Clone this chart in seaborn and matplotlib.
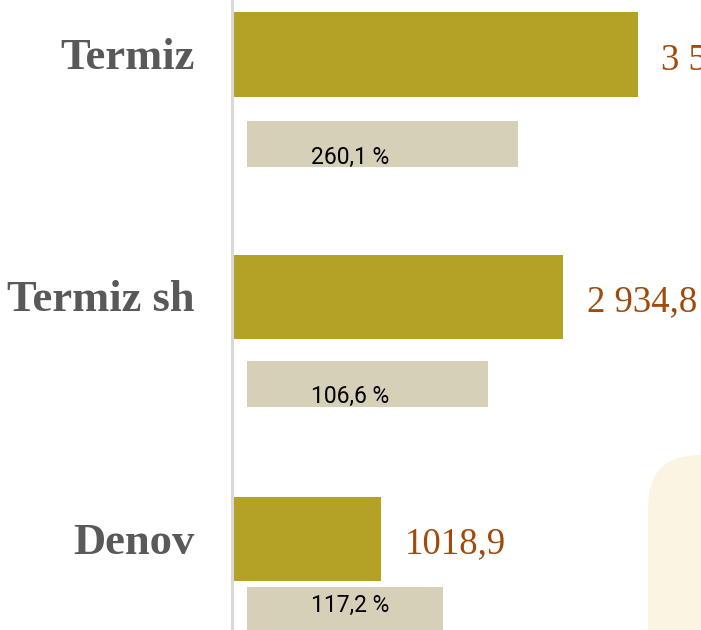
import numpy as np
import pandas as pd
import seaborn as sns
import matplotlib.pyplot as plt
from matplotlib.patches import FancyBboxPatch
from matplotlib.transforms import IdentityTransform

# data
cities = ["Termiz", "Termiz sh", "Denov"]
olive_len = [3600, 2935, 1315]          # drawn bar lengths
olive_lbl = ["3 560,4", "2 934,8", "1018,9"]
beige_len = [2410, 2143, 1743]
beige_lbl = ["260,1 %", "106,6 %", "117,2 %"]

olive = "#b4a227"
beige = "#d6d0b9"
brown = "#a04a0c"
gray = "#595959"

# layout (row offsets in row units)
beige_off = [0.368, 0.360, 0.293]
pct_base = [0.452, 0.438, 0.301]
base_off = 0.06
beige_left = 125
pct_x = 1040

sns.set_style("white")

fig = plt.figure(figsize=(7.01, 6.30), dpi=100)
ax = fig.add_axes([0, 0, 1, 1])

df = pd.DataFrame({"city": cities, "val": olive_len})
sns.barplot(data=df, x="val", y="city", orient="h", color=olive,
            saturation=1, width=0.347, linewidth=0, ax=ax)

ypos = np.arange(len(cities))
ax.barh(ypos + np.array(beige_off), beige_len, left=beige_left,
        height=0.19, color=beige, linewidth=0, zorder=2)

ax.axvline(-13, color="#d9d9d9", lw=2.2, zorder=1)

for i in range(len(cities)):
    ax.text(-338, i + base_off, cities[i], ha="right", va="baseline",
            fontsize=32, fontweight="bold", color=gray,
            family="Liberation Serif")
    ax.annotate(olive_lbl[i], (olive_len[i], i + base_off),
                xytext=(17, 0), textcoords="offset points",
                ha="left", va="baseline", fontsize=26.5, color=brown,
                family="Liberation Serif", annotation_clip=False)
    ax.text(pct_x, i + pct_base[i], beige_lbl[i], ha="center",
            va="baseline", fontsize=16.5, color="black",
            family="Roboto", zorder=3)

# rounded panel in the lower right corner
box = FancyBboxPatch((648, -100), 300, 275,
                     boxstyle="round,pad=0,rounding_size=52",
                     transform=IdentityTransform(), facecolor="#fbf4e2",
                     edgecolor="none", zorder=0)
ax.add_patch(box)

ax.set_xlim(-2072, 4162)
ax.set_ylim(2.3756, -0.225)
ax.set_axis_off()

plt.savefig("out.png", dpi=100)
